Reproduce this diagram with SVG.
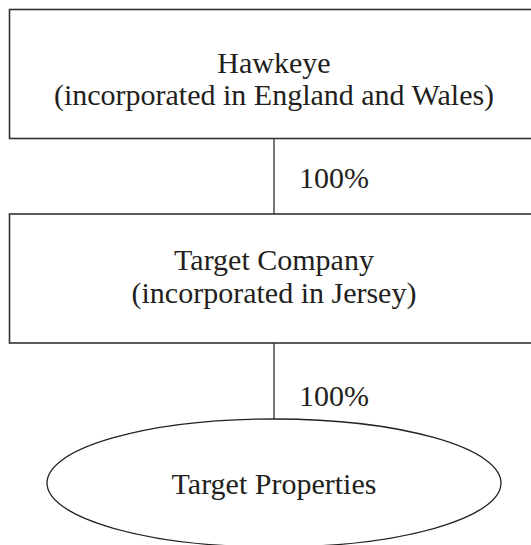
<svg xmlns="http://www.w3.org/2000/svg" width="531" height="545" viewBox="0 0 531 545">
<style>
.box{fill:#fff;stroke:#333;stroke-width:1.6}
.ell{fill:#fff;stroke:#222;stroke-width:1.3}
.conn{stroke:#555;stroke-width:1.6;fill:none}
text{font-family:"Liberation Serif","Times New Roman",serif;font-size:30px;fill:#231f20}
.c{text-anchor:middle}
</style>
<rect width="531" height="545" fill="#fff"/>
<g id="connectors">
<line class="conn" x1="274" y1="138" x2="274" y2="214"/>
<line class="conn" x1="274" y1="343" x2="274" y2="419"/>
<text x="299" y="188">100%</text>
<text x="299" y="406">100%</text>
</g>
<g id="hawkeye">
<rect class="box" x="9.5" y="9.5" width="540" height="129"/>
<text class="c" x="274" y="73">Hawkeye</text>
<text class="c" x="274" y="105">(incorporated in England and Wales)</text>
</g>
<g id="target-company">
<rect class="box" x="9.5" y="214" width="540" height="129"/>
<text class="c" x="274" y="270">Target Company</text>
<text class="c" x="274" y="303">(incorporated in Jersey)</text>
</g>
<g id="target-properties">
<ellipse class="ell" cx="274" cy="483" rx="227" ry="64"/>
<text class="c" x="274" y="494">Target Properties</text>
</g>
</svg>
